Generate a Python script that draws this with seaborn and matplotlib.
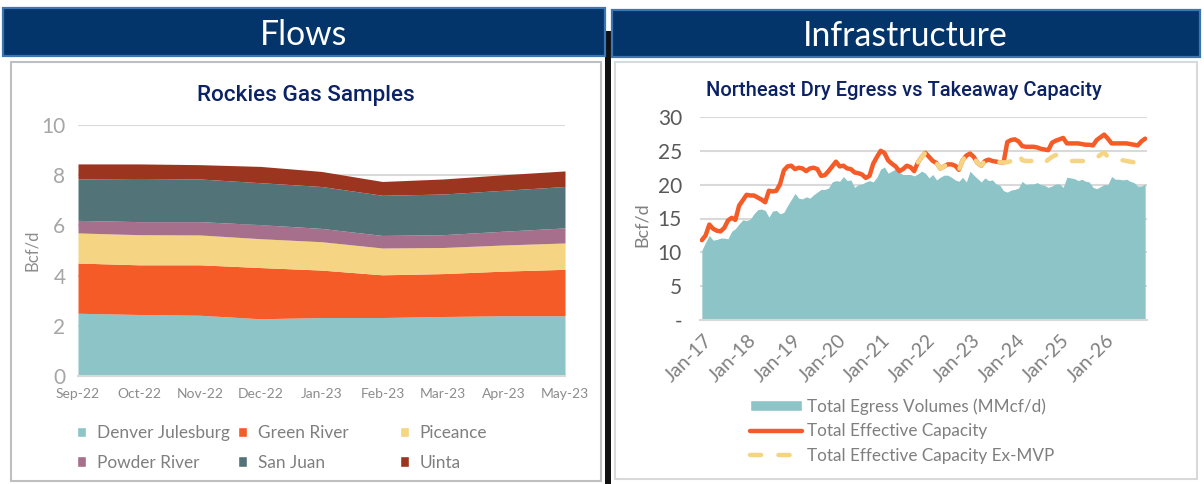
import numpy as np
import pandas as pd
import matplotlib
matplotlib.use("Agg")
import matplotlib.pyplot as plt
from matplotlib.patches import Rectangle, Patch
from matplotlib.lines import Line2D
from matplotlib.transforms import ScaledTranslation
import seaborn as sns

months_left = ["Sep-22","Oct-22","Nov-22","Dec-22","Jan-23","Feb-23","Mar-23","Apr-23","May-23"]
denver = [2.50,2.45,2.42,2.28,2.33,2.33,2.37,2.40,2.40]
green = [2.00,1.98,2.01,2.04,1.89,1.70,1.71,1.78,1.85]
piceance = [1.20,1.20,1.19,1.15,1.13,1.07,1.04,1.04,1.05]
powder = [0.50,0.52,0.53,0.56,0.53,0.50,0.51,0.55,0.60]
san_juan = [1.65,1.72,1.70,1.67,1.67,1.60,1.62,1.63,1.65]
uinta = [0.60,0.58,0.57,0.65,0.60,0.55,0.60,0.62,0.62]
left_names = ["Denver Julesburg","Green River","Piceance","Powder River","San Juan","Uinta"]
left_colors = ["#8CC4C7","#F55B27","#F5D483","#A66F8C","#527478","#9C3520"]

egress = [10.3,11.5,12.5,11.8,11.9,12.1,12.1,12.0,13.1,13.5,14.2,14.8,
          14.7,14.9,15.7,16.3,16.4,16.2,15.2,16.1,16.2,15.7,15.9,16.9,
          17.8,18.7,18.0,17.9,18.2,18.0,18.5,18.9,19.3,19.3,19.5,20.4,
          20.6,20.5,21.2,20.6,20.7,19.6,20.0,20.1,20.4,20.6,20.4,21.1,
          22.3,22.6,21.7,22.0,22.3,21.8,21.5,21.5,21.5,21.3,21.6,22.0,
          21.7,21.0,21.5,20.7,21.1,21.4,21.4,21.1,20.7,20.5,21.1,20.4,
          22.0,21.4,20.9,20.4,21.0,20.6,20.7,20.1,19.9,19.1,18.9,19.2,
          19.3,19.5,20.5,20.0,20.1,20.1,20.3,20.0,19.9,19.6,19.8,20.1,
          20.1,19.6,21.1,21.0,20.9,20.6,20.8,20.5,20.4,19.6,19.4,19.7,
          20.0,20.0,21.2,20.8,20.8,20.7,20.8,20.5,20.3,19.8,19.8,20.1]
capacity = [11.8,12.5,14.1,13.5,13.2,13.1,13.6,14.7,15.1,14.8,16.9,17.7,
            18.5,18.4,18.4,18.1,17.8,17.4,19.1,19.0,19.1,20.1,22.1,22.7,
            22.8,22.3,22.5,22.4,22.0,22.4,22.5,22.3,21.3,21.4,22.0,22.7,
            23.4,22.7,22.8,22.4,22.3,21.8,21.7,21.5,21.0,21.3,23.1,24.1,
            25.0,24.7,23.6,23.1,22.7,22.0,22.3,22.8,22.6,22.0,23.3,24.1,
            24.7,24.1,23.5,23.2,22.4,22.7,23.0,23.0,22.8,22.2,23.6,24.3,
            24.6,24.1,23.2,22.8,23.5,23.7,23.5,23.4,23.3,23.3,26.3,26.6,
            26.7,26.4,25.7,25.6,25.6,25.6,25.5,25.3,25.2,25.1,26.2,26.5,
            26.7,26.9,26.1,26.1,26.1,26.1,26.0,25.9,25.9,25.8,26.6,27.0,
            27.4,26.8,26.1,26.1,26.1,26.1,26.1,26.0,25.9,25.8,26.4,26.8]
ex_mvp_start = 58
ex_mvp = [23.3,24.1,24.7,24.1,23.5,23.2,22.4,22.7,23.0,23.0,22.8,22.2,23.6,24.3,
          24.6,24.1,23.2,22.8,23.5,23.7,23.5,23.4,23.3,23.3,23.3,23.5,
          24.2,24.6,23.6,23.5,23.5,23.5,23.3,23.0,23.2,23.7,24.1,24.4,
          24.1,23.8,23.5,23.5,23.5,23.5,23.5,23.5,23.5,23.5,24.0,24.4,
          24.8,24.1,23.7,23.6,23.6,23.6,23.5,23.4,23.3,23.2,23.2,23.3]
year_labels = ["Jan-17","Jan-18","Jan-19","Jan-20","Jan-21","Jan-22","Jan-23","Jan-24","Jan-25","Jan-26"]
right_names = ["Total Egress Volumes (MMcf/d)","Total Effective Capacity","Total Effective Capacity Ex-MVP"]

W, H = 1204, 484
sns.set_style("white")
FONT = ["Lato", "DejaVu Sans"]
plt.rcParams["font.family"] = FONT
GRAY = "#7F7F7F"; NAVY = "#0B2265"
DASH = (0,(2.5,3.9))
LW = 3.2

fig = plt.figure(figsize=(W/100, H/100), dpi=100, facecolor="white")
def px_axes(x0, y0, x1, y1):
    return fig.add_axes([x0/W, 1-y1/H, (x1-x0)/W, (y1-y0)/H])

bg = fig.add_axes([0,0,1,1]); bg.set_xlim(0,W); bg.set_ylim(H,0); bg.axis("off")
bg.add_patch(Rectangle((605,31),6,453,fc="#111111",ec="none"))
bg.add_patch(Rectangle((3,8),602,48,fc="#03356B",ec="#3D75B0",lw=1.6))
bg.add_patch(Rectangle((612,10),588,47,fc="#03356B",ec="#3D75B0",lw=1.6))
bg.add_patch(Rectangle((11,62),590,419,fc="white",ec="#BFBFBF",lw=1.5))
bg.add_patch(Rectangle((615,62),582,417,fc="white",ec="#D9D9D9",lw=1.5))
bg.text(304,35,"Flows",color="white",fontsize=24.3,ha="center",va="center")
bg.text(905,36,"Infrastructure",color="white",fontsize=24.3,ha="center",va="center")
bg.text(306,95,"Rockies Gas Samples",color=NAVY,fontsize=16.2,ha="center",va="center",family=["Roboto","DejaVu Sans"],fontweight="medium")
bg.text(904,91,"Northeast Dry Egress vs Takeaway Capacity",color=NAVY,fontsize=14.5,ha="center",va="center",family=["Roboto","DejaVu Sans"],fontweight="medium")

def style(ax):
    ax.patch.set_alpha(0)
    for s in ("top","left","right"):
        ax.spines[s].set_visible(False)
    ax.spines["bottom"].set_color("#D9D9D9"); ax.spines["bottom"].set_linewidth(1.5)
    ax.grid(axis="y",color="#D9D9D9",lw=1.5); ax.set_axisbelow(True)

# Left chart
ax = px_axes(78,125,565,376)
style(ax)
x = np.arange(len(months_left))
ax.stackplot(x,denver,green,piceance,powder,san_juan,uinta,colors=left_colors,lw=0)
ax.set_xlim(0,8); ax.set_ylim(0,10)
ax.set_xticks(x,months_left); ax.set_yticks(range(0,11,2))
ax.tick_params(axis="x",length=4,width=1.5,color="#D9D9D9",labelcolor="#8C8C8C",labelsize=10,pad=5)
ax.tick_params(axis="y",length=0,labelcolor="#A6A6A6",labelsize=15,pad=9)
ax.set_ylabel("Bcf/d",color="#8C8C8C",fontsize=12,labelpad=0)
ax.yaxis.set_label_coords((40-78)/487,0.5)
for i,cx in enumerate((77,238,400)):
    hs=[Patch(fc=left_colors[i]),Patch(fc=left_colors[i+3])]
    fig.legend(handles=hs,labels=[left_names[i],left_names[i+3]],loc="upper left",
        bbox_to_anchor=(cx/W,1-425/H),frameon=False,fontsize=12.4,labelcolor=GRAY,
        handlelength=0.55,handleheight=0.55,handletextpad=0.6,labelspacing=0.8,borderpad=0,borderaxespad=0)

# Right chart
ax2 = px_axes(700,117,1147,320)
style(ax2)
df = pd.DataFrame({"m":np.arange(len(egress)),"egress":egress,"capacity":capacity})
df["ex"] = [np.nan]*ex_mvp_start+ex_mvp
ax2.fill_between(df["m"],0,df["egress"],color="#8CC4C7",lw=0,zorder=2)
sns.lineplot(data=df,x="m",y="capacity",ax=ax2,color="#F55B27",lw=LW,zorder=3,solid_capstyle="round",errorbar=None)
sns.lineplot(data=df,x="m",y="ex",ax=ax2,color="#F5D483",lw=LW,zorder=4,errorbar=None,
             linestyle=DASH,dash_capstyle="round")
ax2.set_xlim(-0.5,119.5); ax2.set_ylim(0,30)
ax2.set_xlabel(""); ax2.set_ylabel("Bcf/d",color=GRAY,fontsize=13,labelpad=6)
ax2.yaxis.set_label_coords((650-700)/447,0.468)
ax2.set_xticks(np.arange(-0.5,120,12),year_labels+[""])
ax2.set_yticks(range(0,31,5),["-","5","10","15","20","25","30"])
ax2.tick_params(axis="x",length=4,width=1.5,color="#D9D9D9",labelcolor=GRAY,labelsize=14,pad=4)
ax2.tick_params(axis="y",length=0,labelcolor="#595959",labelsize=15,pad=13)
shift = ScaledTranslation(9/100,-6/100,fig.dpi_scale_trans)
for t in ax2.get_xticklabels():
    t.set_rotation(45); t.set_ha("right"); t.set_rotation_mode("anchor"); t.set_va("center")
    t.set_transform(t.get_transform()+shift)
hs=[Patch(fc="#8CC4C7"),Line2D([],[],color="#F55B27",lw=LW,solid_capstyle="round"),
    Line2D([],[],color="#F5D483",lw=LW,linestyle=DASH,dash_capstyle="round")]
fig.legend(handles=hs,labels=right_names,loc="upper left",bbox_to_anchor=(750/W,1-398/H),frameon=False,
    fontsize=12.3,labelcolor=GRAY,handlelength=3.05,handleheight=0.55,handletextpad=0.3,labelspacing=0.5,borderpad=0,borderaxespad=0)

fig.savefig("out.png",dpi=100)
